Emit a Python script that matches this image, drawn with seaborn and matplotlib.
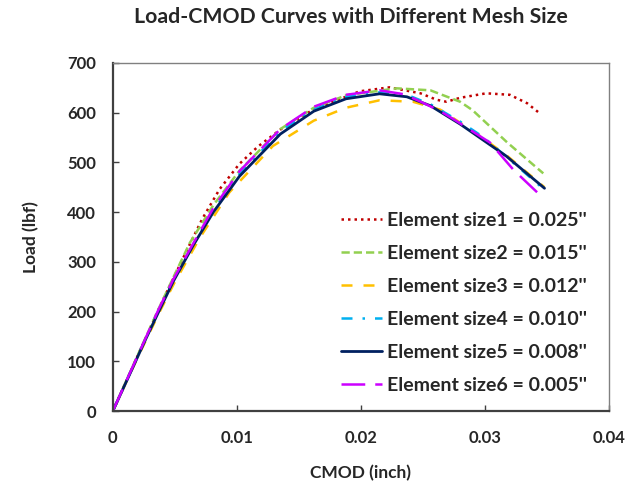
import matplotlib
matplotlib.use("Agg")
import matplotlib.pyplot as plt
import seaborn as sns
import pandas as pd

sns.set_style("white")
plt.rcParams["font.family"] = ["Lato", "DejaVu Sans"]

# CMOD (inch) and load (lbf) for each mesh size
cmod_1 = [0, 0.0018, 0.0037, 0.0049, 0.0060, 0.0072, 0.0086, 0.0102, 0.0117, 0.0135,
          0.0162, 0.0199, 0.0223, 0.0248, 0.0261, 0.0269, 0.0280, 0.0301, 0.0320,
          0.0334, 0.0344]
load_1 = [0, 100, 205, 268, 325, 386, 446, 497, 532, 566,
          607, 643, 651, 639, 626, 622, 630, 639, 636,
          619, 599]

cmod_2 = [0, 0.0018, 0.0037, 0.0049, 0.0062, 0.0081, 0.0102, 0.0135, 0.0162, 0.0188,
          0.0229, 0.0256, 0.0280, 0.0290, 0.0318, 0.0347]
load_2 = [0, 101, 206, 270, 338, 414, 483, 567, 610, 635,
          649, 645, 622, 605, 540, 478]

cmod_3 = [0, 0.0018, 0.0037, 0.0049, 0.0070, 0.0094, 0.0129, 0.0162, 0.0188, 0.0215,
          0.0242, 0.0264, 0.0291, 0.0317, 0.0348]
load_3 = [0, 97, 196, 255, 348, 440, 533, 584, 610, 625,
          622, 606, 562, 515, 450]

cmod_4 = [0, 0.0018, 0.0037, 0.0049, 0.0065, 0.0081, 0.0102, 0.0135, 0.0162, 0.0188,
          0.0215, 0.0237, 0.0256, 0.0280, 0.0298, 0.0316, 0.0347]
load_4 = [0, 99, 203, 264, 335, 404, 476, 563, 606, 632,
          641, 636, 617, 582, 552, 514, 447]

cmod_5 = [0, 0.0018, 0.0026, 0.0037, 0.0049, 0.0065, 0.0081, 0.0102, 0.0135, 0.0162,
          0.0188, 0.0215, 0.0237, 0.0256, 0.0280, 0.0291, 0.0317, 0.0348]
load_5 = [0, 98, 142, 200, 262, 334, 400, 472, 557, 603,
          628, 638, 632, 614, 577, 558, 513, 448]

cmod_6 = [0, 0.0018, 0.0037, 0.0049, 0.0065, 0.0081, 0.0102, 0.0135, 0.0162, 0.0188,
          0.0215, 0.0235, 0.0250, 0.0264, 0.0274, 0.0304, 0.0323, 0.0342]
load_6 = [0, 100, 205, 266, 338, 408, 482, 567, 612, 636,
          645, 637, 620, 603, 588, 540, 485, 440]

labels = ["Element size1 = 0.025''", "Element size2 = 0.015''",
          "Element size3 = 0.012''", "Element size4 = 0.010''",
          "Element size5 = 0.008''", "Element size6 = 0.005''"]

x_ticks = [0, 0.01, 0.02, 0.03, 0.04]
x_tick_labels = ["0", "0.01", "0.02", "0.03", "0.04"]
y_ticks = [0, 100, 200, 300, 400, 500, 600, 700]

series = [(cmod_1, load_1), (cmod_2, load_2), (cmod_3, load_3),
          (cmod_4, load_4), (cmod_5, load_5), (cmod_6, load_6)]

colors = ["#C00000", "#92D050", "#FFC000", "#00B0F0", "#002060", "#CC00FF"]
styles = [(0, (1, 1.6)), (0, (3.3, 1.6)), (0, (4.4, 4.4)),
          (0, (4.4, 4.0, 1, 4.0)), "-", (0, (9.5, 4.0))]
widths = [1.8, 1.8, 1.8, 1.8, 2.0, 1.8]

fig = plt.figure(figsize=(6.34, 4.92), dpi=100)
ax = fig.add_axes([0.178, 0.1646, 0.7826, 0.7074])

for (x, y), lab, c, ls, lw in zip(series, labels, colors, styles, widths):
    df = pd.DataFrame({"CMOD": x, "Load": y})
    sns.lineplot(data=df, x="CMOD", y="Load", ax=ax, color=c, linestyle=ls,
                 linewidth=lw, label=lab, sort=False)

ax.set_xlim(0, 0.04)
ax.set_ylim(0, 700)
ax.set_xticks(x_ticks)
ax.set_xticklabels(x_tick_labels)
ax.set_yticks(y_ticks)

for lab in ax.get_xticklabels() + ax.get_yticklabels():
    lab.set_fontweight("bold")
    lab.set_fontsize(12)

ax.tick_params(axis="both", direction="in", length=4, width=1, color="#404040",
               bottom=True, left=True, top=False, right=False)
ax.tick_params(axis="y", pad=12)
ax.tick_params(axis="x", pad=14)

for side in ["left", "bottom"]:
    ax.spines[side].set_color("#404040")
    ax.spines[side].set_linewidth(1.6)
for side in ["top", "right"]:
    ax.spines[side].set_color("#808080")
    ax.spines[side].set_linewidth(1.0)

ax.set_xlabel("CMOD (inch)", fontsize=12.5, fontweight="bold", labelpad=13)
ax.set_ylabel("Load (lbf)", fontsize=12.5, fontweight="bold", labelpad=20)
fig.suptitle("Load-CMOD Curves with Different Mesh Size", fontsize=15.3,
             fontweight="bold", x=0.553, y=0.985)

leg = ax.legend(loc="lower right", frameon=False, handlelength=2.1,
                handletextpad=0.25, labelspacing=0.82, fontsize=14,
                bbox_to_anchor=(0.99, 0.0))
for t in leg.get_texts():
    t.set_fontweight("bold")

fig.savefig("out.png", dpi=100)
